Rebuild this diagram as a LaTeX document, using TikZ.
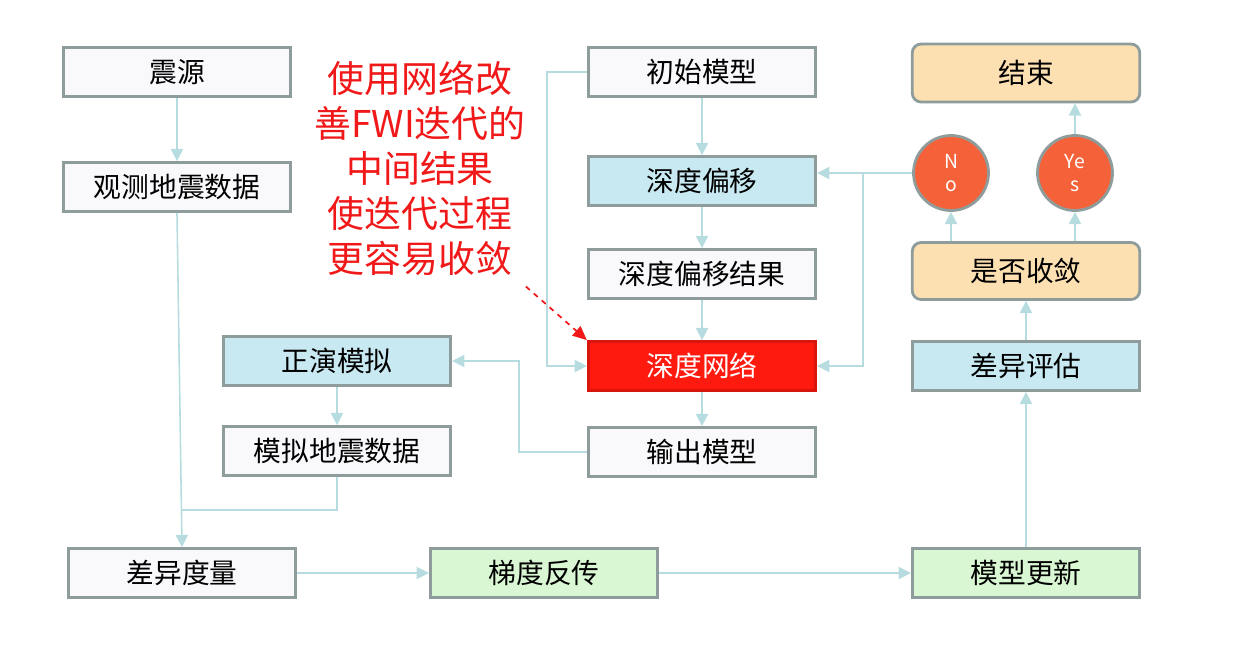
\documentclass[tikz,border=0pt]{standalone}
\usepackage{fontspec}
\setmainfont{Noto Sans CJK SC}
\usetikzlibrary{arrows.meta}

\definecolor{edgegray}{HTML}{8E9C9C}
\definecolor{linkcol}{HTML}{B6DCDF}
\definecolor{plainfill}{HTML}{F9F9FC}
\definecolor{bluefill}{HTML}{C8E9F2}
\definecolor{greenfill}{HTML}{D9F7D2}
\definecolor{orangefill}{HTML}{FCE0B2}
\definecolor{redfill}{HTML}{FF1A10}
\definecolor{dotfill}{HTML}{F5623A}
\definecolor{notered}{HTML}{F01818}

\begin{document}
\begin{tikzpicture}[
    x=0.02cm, y=-0.02cm,
    >={Triangle[length=7pt,width=7pt]},
    every node/.style={font=\fontsize{15.8}{18}\selectfont},
    box/.style={draw=edgegray, line width=1.6pt, fill=plainfill,
        minimum width=4.55cm, minimum height=0.98cm, inner sep=0pt},
    bluebox/.style={box, fill=bluefill},
    greenbox/.style={box, fill=greenfill},
    orangebox/.style={box, fill=orangefill, rounded corners=5pt},
    dot/.style={circle, draw=edgegray, line width=1.6pt, fill=dotfill,
        minimum size=1.5cm, inner sep=0pt, text=white, align=center,
        font=\fontsize{11}{13}\selectfont},
    link/.style={draw=linkcol, line width=0.9pt, ->},
    plainlink/.style={draw=linkcol, line width=0.9pt}]
    \useasboundingbox (0,0) rectangle (1248,664);

    % 左列
    \node[box] (src) at (177,72) {震源};
    \node[box] (obs) at (177,187) {观测地震数据};
    \node[bluebox] (fwd) at (337,361) {正演模拟};
    \node[box] (sim) at (337,451) {模拟地震数据};
    \node[box] (diff) at (182,573) {差异度量};

    % 中列
    \node[box] (init) at (702,72) {初始模型};
    \node[bluebox] (mig) at (702,181) {深度偏移};
    \node[box] (migres) at (702,274) {深度偏移结果};
    \node[box, fill=redfill, draw=redfill!85!black, text=white] (dnn) at (702,366) {深度网络};
    \node[box] (out) at (702,452) {输出模型};
    \node[greenbox] (grad) at (544,573) {梯度反传};

    % 右列
    \node[orangebox, minimum height=1.16cm] (stop) at (1026,73) {结束};
    \node[dot] (no) at (951,173) {N\\o};
    \node[dot] (yes) at (1075,173) {Ye\\s};
    \node[orangebox, minimum height=1.14cm] (conv) at (1026,271) {是否收敛};
    \node[bluebox] (eval) at (1026,366) {差异评估};
    \node[greenbox] (upd) at (1026,573) {模型更新};

    % 注释
    \node[text=notered, align=center, font=\fontsize{21}{25.6}\selectfont]
        (note) at (420,168) {使用网络改\\善FWI迭代的\\中间结果\\使迭代过程\\更容易收敛};
    \draw[notered, line width=1pt, dashed, -{Triangle[length=8pt,width=7pt]}]
        (note.south east) ++(-6,5) -- (dnn.north west);

    % 连线
    \coordinate (merge) at (182,510);
    \coordinate (split) at (863,173);
    \draw[link] (src) -- (obs);
    \draw[link] (obs.south) -- (diff.north);
    \draw[link] (fwd) -- (sim);
    \draw[plainlink] (sim.south) |- (merge);
    \draw[link] (diff) -- (grad);
    \draw[link] (grad) -- (upd);
    \draw[link] (init) -- (mig);
    \draw[link] (mig) -- (migres);
    \draw[link] (migres) -- (dnn);
    \draw[link] (dnn) -- (out);
    \draw[link] (init.west) -- ++(-40,0) |- (dnn.west);
    \draw[link] (out.west) -- ++(-68,0) |- (fwd.east);
    \draw[link] (no.west) -- (no -| mig.east);
    \draw[link] (split) |- (dnn.east);
    \draw[link] (upd) -- (eval);
    \draw[link] (eval) -- (conv);
    \draw[link] (conv.north -| no) -- (no.south);
    \draw[link] (conv.north -| yes) -- (yes.south);
    \draw[link] (yes.north) -- (stop.south -| yes);
\end{tikzpicture}
\end{document}
